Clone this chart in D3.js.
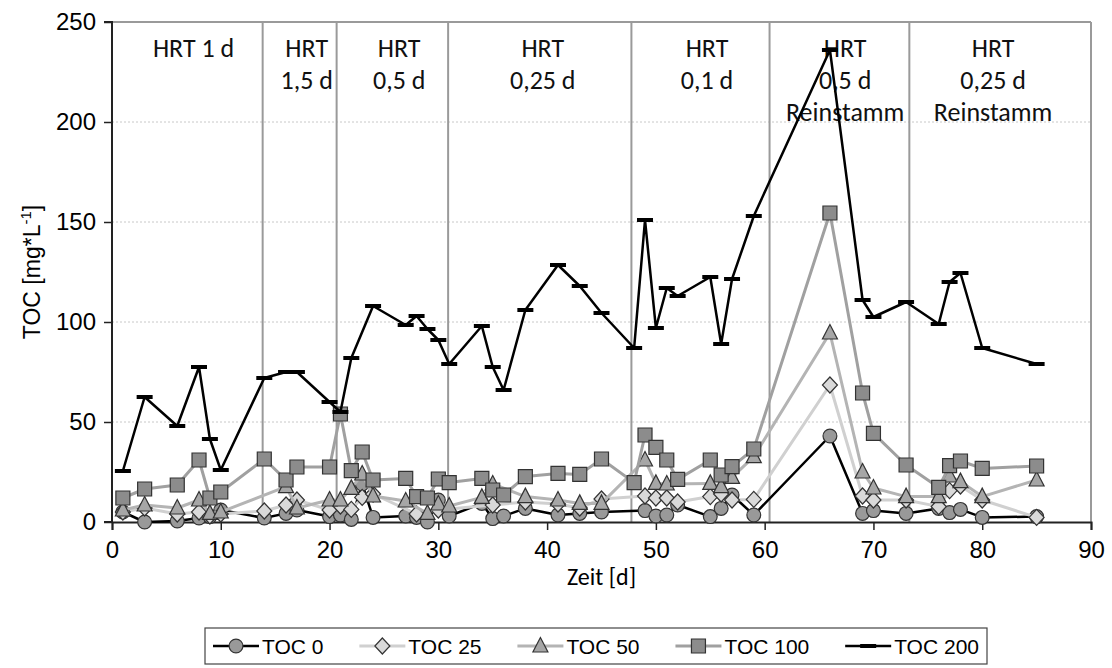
<!DOCTYPE html>
<html><head><meta charset="utf-8">
<script src="https://cdn.jsdelivr.net/npm/d3@7"></script>
<style>body{margin:0;background:#fff}svg{display:block}</style>
</head><body>
<svg id="c" width="1112" height="668"></svg>
<script>
const days = [1,3,6,8,9,10,14,16,17,20,21,22,23,24,27,28,29,30,31,34,35,36,38,41,43,45,48,49,50,51,52,55,56,57,59,66,69,70,73,76,77,78,80,85];
const toc0 = [5,0,0.5,2,2.7,6,2,4.3,6,2.7,3.5,1.3,19,2.3,3,2.3,0,11,3,9.3,1.7,3,6.8,3.5,4.3,5,null,5.7,3,3.5,8.5,2.7,6.8,13.5,3.5,43,4.3,5.7,4.3,6.8,4.7,6.3,2.3,2.7];
const toc25 = [5,7,4,5,3,4,5.5,8.5,11,6,8,6.3,12.3,14,null,4,null,6,null,null,8.5,null,10,9,7,11.5,null,13,12,12,10,12.7,14,11,11.3,68.5,13,11,11,7.7,15.7,18,11,2.3];
const toc50 = [6,8.5,7,11,4.3,5,null,17.7,7,11,11,16.8,24,13,10.5,null,4.3,9,8,12.3,19,null,12.7,11,9.3,9.3,null,31,19.3,19,null,19.3,17.7,22.3,32.7,94.5,25,17,12.7,12.7,23,20.2,12.7,21];
const toc100 = [12,16.5,18.5,31,12,15,31.5,21,27.5,27.5,54,25.7,35,21,21.8,12.7,12,21.5,19.7,21.8,16,13.5,22.7,24.3,23.8,31.5,19.7,43.5,37.3,31,21.3,31,23.5,27.7,36.5,154.5,64.5,44.3,28.5,17.3,28.2,30.5,26.8,28];
const toc200 = [25.5,62.5,48,77.5,41.5,26,72,75,75,60,55,82,null,108,98.5,103,96.5,91,79,98,77.5,66,106,128.5,118,104.5,87,151,97,117,113,122.5,89,121.5,153,236,111,102.5,110,99,120,124.5,87,79];
const seriesNames = ["TOC 0","TOC 25","TOC 50","TOC 100","TOC 200"];
const xTicks = [0,10,20,30,40,50,60,70,80,90];
const yTicks = [0,50,100,150,200,250];
const phaseBreaks = [13.85,20.65,30.9,47.75,60.45,73.3];
const phaseLabels = [
  {day:7.5, lines:["HRT 1 d"]},
  {day:17.9, lines:["HRT","1,5 d"]},
  {day:26.4, lines:["HRT","0,5 d"]},
  {day:39.6, lines:["HRT","0,25 d"]},
  {day:54.7, lines:["HRT","0,1 d"]},
  {day:67.4, lines:["HRT","0,5 d","Reinstamm"]},
  {day:81.0, lines:["HRT","0,25 d","Reinstamm"]}
];

const svg = d3.select("#c");
const L=112, R=1091, T=22, B=522;
const x = d3.scaleLinear().domain([0,90]).range([L,R]);
const y = d3.scaleLinear().domain([0,250]).range([B,T]);
const tickFont = "'Liberation Sans', Arial, sans-serif";
const calFont = "Carlito, Lato, 'Open Sans', sans-serif";

svg.append("g").selectAll("line").data(yTicks.filter(v=>v>0 && v<250)).join("line")
  .attr("x1",L).attr("x2",R).attr("y1",d=>y(d)).attr("y2",d=>y(d))
  .attr("stroke","#c8c8c8").attr("stroke-width",1).attr("stroke-dasharray","2,2");

svg.append("line").attr("x1",L).attr("x2",R).attr("y1",T).attr("y2",T).attr("stroke","#9a9a9a").attr("stroke-width",2);
svg.append("line").attr("x1",R).attr("x2",R).attr("y1",T).attr("y2",B).attr("stroke","#9a9a9a").attr("stroke-width",2);

svg.append("g").selectAll("line").data(phaseBreaks).join("line")
  .attr("x1",d=>x(d)).attr("x2",d=>x(d)).attr("y1",T).attr("y2",B)
  .attr("stroke","#9a9a9a").attr("stroke-width",2);

const xa = svg.append("g").attr("transform",`translate(0,${B})`)
  .call(d3.axisBottom(x).tickValues(xTicks).tickSize(8).tickPadding(11));
const ya = svg.append("g").attr("transform",`translate(${L},0)`)
  .call(d3.axisLeft(y).tickValues(yTicks).tickSize(8).tickPadding(8));
[xa,ya].forEach(a=>{
  a.select(".domain").attr("stroke","#222").attr("stroke-width",2);
  a.selectAll(".tick line").attr("stroke","#222").attr("stroke-width",1.5);
  a.selectAll("text").attr("font-family",tickFont).attr("font-size",24).attr("fill","#000");
});
ya.select(".domain").attr("d",`M-8,${B}H0V${T}H-8`);

const pl = svg.append("g");
phaseLabels.forEach(p=>{
  const t = pl.append("text").attr("x",x(p.day)).attr("text-anchor","middle")
    .attr("font-family",calFont).attr("font-size",26).attr("fill","#111");
  p.lines.forEach((s,i)=>t.append("tspan").attr("x",x(p.day)).attr("y",57+i*32).text(s));
});

const series = [
  {name:seriesNames[0], vals:toc0, line:"#000", lw:2.5, mark:"circle", fill:"#999"},
  {name:seriesNames[1], vals:toc25, line:"#d0d0d0", lw:3, mark:"diamond", fill:"#d9d9d9"},
  {name:seriesNames[2], vals:toc50, line:"#b4b4b4", lw:3, mark:"triangle", fill:"#a6a6a6"},
  {name:seriesNames[3], vals:toc100, line:"#a0a0a0", lw:3, mark:"square", fill:"#8c8c8c"},
  {name:seriesNames[4], vals:toc200, line:"#000", lw:2.5, mark:"dash", fill:"#000"}
];
const symPath = {
  circle: d3.symbol(d3.symbolCircle, 150)(),
  diamond: "M0,-8L7.5,0L0,8L-7.5,0Z",
  triangle: "M0,-8.5L7.5,6L-7.5,6Z",
  square: "M-7,-7H7V7H-7Z",
  dash: "M-8,-2H8V2H-8Z"
};
const line = d3.line().x(d=>x(d[0])).y(d=>y(d[1]));
series.forEach(s=>{
  const pts = days.map((d,i)=>[d,s.vals[i]]).filter(p=>p[1]!==null);
  const g = svg.append("g");
  g.append("path").datum(pts).attr("d",line).attr("fill","none")
    .attr("stroke",s.line).attr("stroke-width",s.lw).attr("stroke-linejoin","round");
  g.selectAll("path.m").data(pts).join("path").attr("class","m")
    .attr("transform",p=>`translate(${x(p[0])},${y(p[1])})`)
    .attr("d",symPath[s.mark]).attr("fill",s.fill)
    .attr("stroke", s.mark==="dash"?"none":"#333").attr("stroke-width",1.2);
});

svg.append("text").attr("transform",`translate(40,${(T+B)/2}) rotate(-90)`).attr("text-anchor","middle")
  .attr("font-family",tickFont).attr("font-size",23).attr("fill","#000")
  .call(t=>{t.append("tspan").text("TOC [mg*L");t.append("tspan").attr("dy",-9).attr("font-size",15).text("-1");t.append("tspan").attr("dy",9).text("]");});
svg.append("text").attr("x",(L+R)/2).attr("y",585).attr("text-anchor","middle")
  .attr("font-family",calFont).attr("font-size",24).attr("fill","#000").text("Zeit [d]");

const lg = svg.append("g");
const boxX=205, boxW=782, boxY=628, boxH=36;
lg.append("rect").attr("x",boxX).attr("y",boxY).attr("width",boxW).attr("height",boxH)
  .attr("fill","#fff").attr("stroke","#444").attr("stroke-width",1.2);
const items=[];
series.forEach(s=>{
  const it = lg.append("g");
  it.append("line").attr("x1",0).attr("x2",46).attr("y1",0).attr("y2",0).attr("stroke",s.line).attr("stroke-width",s.lw);
  it.append("path").attr("transform","translate(23,0)").attr("d",symPath[s.mark]).attr("fill",s.fill)
    .attr("stroke", s.mark==="dash"?"none":"#333").attr("stroke-width",1.2);
  const tx = it.append("text").attr("x",49).attr("y",8).attr("font-family",tickFont).attr("font-size",21).text(s.name);
  items.push({it, w:49 + tx.node().getComputedTextLength()});
});
const pad = 8;
const gap = (boxW - 2*pad - d3.sum(items,d=>d.w)) / (items.length-1);
let start = boxX + pad;
items.forEach(d=>{d.it.attr("transform",`translate(${start},${boxY+boxH/2})`); start += d.w + gap;});
</script>
</body></html>
